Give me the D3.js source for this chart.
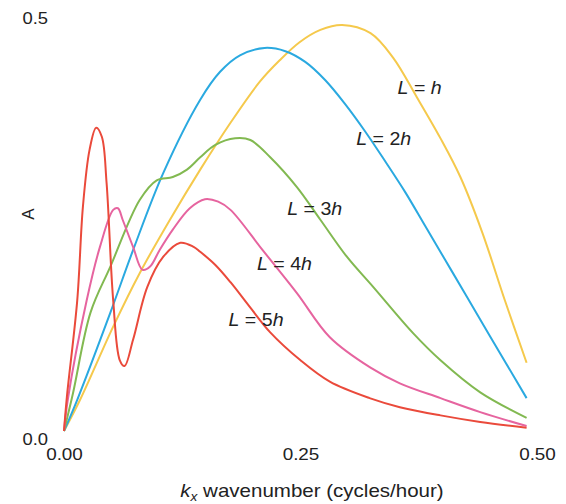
<!DOCTYPE html>
<html>
<head>
<meta charset="utf-8">
<script src="https://cdn.jsdelivr.net/npm/d3@7"></script>
<style>
  body { margin: 0; background: #fff; }
  text { font-family: "Liberation Sans", Arial, sans-serif; fill: #222; }
</style>
</head>
<body>
<div id="chart"></div>
<script>
// values: [k (cycles/hour), A]
const curveH = [[0,0],[.017,.038],[.052,.127],[.080,.192],[.112,.257],[.144,.318],[.176,.375],[.207,.425],[.228,.451],[.249,.473],[.271,.488],[.294,.494],[.324,.484],[.348,.454],[.373,.406],[.398,.356],[.419,.309],[.442,.242],[.466,.159],[.489,.083]];
const curve2H = [[0,0],[.014,.038],[.049,.144],[.073,.220],[.105,.314],[.144,.403],[.165,.437],[.186,.457],[.212,.466],[.234,.462],[.255,.449],[.276,.427],[.297,.398],[.318,.365],[.339,.329],[.361,.290],[.382,.249],[.403,.208],[.424,.167],[.450,.116],[.489,.040]];
const curve3H = [[0,0],[.0095,.046],[.028,.144],[.049,.200],[.080,.281],[.098,.305],[.115,.309],[.130,.318],[.144,.333],[.160,.348],[.181,.356],[.197,.354],[.218,.333],[.246,.297],[.271,.257],[.299,.212],[.327,.175],[.369,.119],[.398,.086],[.440,.047],[.489,.016]];
const curve4H = [[0,0],[.004,.038],[.024,.159],[.038,.224],[.052,.269],[.057,.271],[.062,.257],[.073,.224],[.083,.196],[.091,.200],[.101,.220],[.115,.245],[.133,.271],[.149,.282],[.163,.279],[.176,.269],[.210,.220],[.246,.168],[.281,.114],[.324,.077],[.355,.058],[.398,.040],[.440,.023],[.489,.006]];
const curve5H = [[0,0],[.003,.041],[.014,.159],[.020,.273],[.027,.342],[.034,.369],[.040,.358],[.045,.302],[.052,.159],[.059,.086],[.064,.079],[.073,.111],[.088,.175],[.105,.212],[.123,.229],[.137,.224],[.144,.218],[.160,.202],[.176,.181],[.197,.150],[.218,.120],[.250,.086],[.281,.060],[.323,.040],[.355,.029],[.398,.019],[.440,.011],[.489,.004]];

const seriesNames = ["h", "2h", "3h", "4h", "5h"];
const seriesData = [curveH, curve2H, curve3H, curve4H, curve5H];
const colors = ["#f5c94c", "#2aa9e0", "#82b951", "#e6649f", "#ea4a3b"];
// where each "L = ..." annotation sits, in data units
const labelSpots = [[.376, .418], [.338, .355], [.265, .270], [.233, .204], [.203, .135]];

const xTicks = [0, 0.25, 0.5];
const yTicks = [0, 0.5];

const width = 566, height = 504;

const svg = d3.select("#chart")
  .append("svg")
  .attr("width", width)
  .attr("height", height);

const xScale = d3.scaleLinear().domain([0, 0.5]).range([64, 537]);
const yScale = d3.scaleLinear().domain([0, 0.5]).range([431, 20]);

// x axis (labels only)
const xAxis = svg.append("g")
  .attr("transform", "translate(0,449)")
  .call(d3.axisBottom(xScale).tickValues(xTicks).tickFormat(d3.format(".2f")).tickSize(0).tickPadding(0));
xAxis.select(".domain").remove();
xAxis.selectAll("text")
  .attr("font-size", 16)
  .attr("font-family", "Liberation Sans, Arial, sans-serif")
  .attr("fill", "#222")
  .attr("transform", "scale(1.18,1)");

// y axis (labels only)
const yAxis = svg.append("g")
  .attr("transform", "translate(48,0)")
  .call(d3.axisLeft(yScale).tickValues(yTicks).tickFormat(d3.format(".1f")).tickSize(0).tickPadding(0));
yAxis.select(".domain").remove();
yAxis.selectAll("text")
  .attr("font-size", 16)
  .attr("font-family", "Liberation Sans, Arial, sans-serif")
  .attr("fill", "#222")
  .attr("dy", d => d === 0 ? "0.85em" : "0.2em")
  .attr("transform", "scale(1.15,1)");

// curves
const line = d3.line()
  .x(d => xScale(d[0]))
  .y(d => yScale(d[1]))
  .curve(d3.curveCatmullRom.alpha(0.5));

svg.append("g")
  .selectAll("path")
  .data(seriesData)
  .enter()
  .append("path")
  .attr("d", line)
  .attr("fill", "none")
  .attr("stroke", (d, i) => colors[i])
  .attr("stroke-width", 2)
  .attr("stroke-linejoin", "round");

// L = ... labels
const labels = svg.append("g")
  .selectAll("g")
  .data(seriesNames)
  .enter()
  .append("g")
  .attr("transform", (d, i) => `translate(${xScale(labelSpots[i][0])},${yScale(labelSpots[i][1])}) scale(1.09,1)`);

labels.each(function (name) {
  const t = d3.select(this).append("text")
    .attr("text-anchor", "middle")
    .attr("dy", "0.35em")
    .attr("font-size", 18);
  t.append("tspan").attr("font-style", "italic").text("L");
  t.append("tspan").text(" = " + name.replace("h", ""));
  t.append("tspan").attr("font-style", "italic").text("h");
});

// axis titles
const xTitle = svg.append("g")
  .attr("transform", "translate(312,497) scale(1.14,1)")
  .append("text")
  .attr("text-anchor", "middle")
  .attr("font-size", 18);
xTitle.append("tspan").attr("font-style", "italic").text("k");
xTitle.append("tspan").attr("font-style", "italic").attr("font-size", 12).attr("dy", 4).text("x");
xTitle.append("tspan").attr("dy", -4).text(" wavenumber (cycles/hour)");

svg.append("text")
  .attr("transform", "translate(28,214) rotate(-90)")
  .attr("text-anchor", "middle")
  .attr("dy", "0.35em")
  .attr("font-size", 17)
  .text("A");
</script>
</body>
</html>
